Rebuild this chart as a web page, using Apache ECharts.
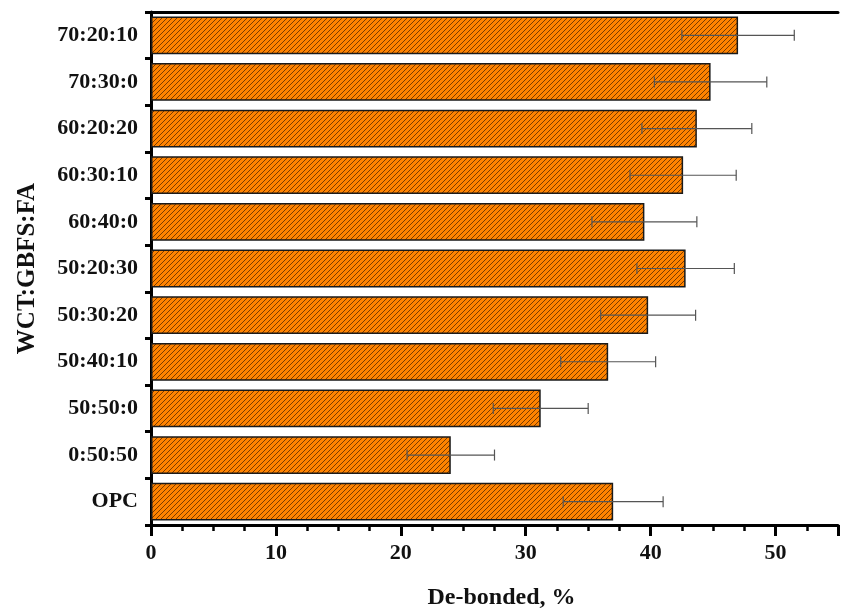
<!DOCTYPE html>
<html>
<head>
<meta charset="utf-8">
<script src="https://cdn.jsdelivr.net/npm/echarts@6/dist/echarts.min.js"></script>
<style>
html,body{margin:0;padding:0;background:#fff;}
#c{width:841px;height:615px;}
</style>
</head>
<body>
<div id="c"></div>
<script>
var categories = ['OPC','0:50:50','50:50:0','50:40:10','50:30:20','50:20:30','60:40:0','60:30:10','60:20:20','70:30:0','70:20:10'];
var debonded = [37.0, 24.0, 31.2, 36.6, 39.8, 42.8, 39.5, 42.6, 43.7, 44.8, 47.0];
var errors = [4.0, 3.5, 3.8, 3.8, 3.8, 3.9, 4.2, 4.25, 4.4, 4.5, 4.5];
var xTicks = [0, 10, 20, 30, 40, 50];

function makeHatch() {
  var s = 5;
  var cv = document.createElement('canvas');
  cv.width = s; cv.height = s;
  var ctx = cv.getContext('2d');
  ctx.fillStyle = '#ff8300';
  ctx.fillRect(0, 0, s, s);
  for (var y = 0; y < s; y++) {
    for (var x = 0; x < s; x++) {
      if ((x + y) % s === s - 1) { ctx.fillStyle = '#7a3c00'; ctx.fillRect(x, y, 1, 1); }
    }
  }
  return cv;
}

var errData = categories.map(function (c, i) {
  return [i, debonded[i] - errors[i], debonded[i] + errors[i]];
});

var font = '"Liberation Serif", "Times New Roman", serif';
var chart = echarts.init(document.getElementById('c'), null, {renderer: 'canvas'});
chart.setOption({
  animation: false,
  backgroundColor: '#fff',
  grid: {left: 151, right: 2, top: 12, bottom: 89, containLabel: false},
  xAxis: [{
    type: 'value',
    min: 0, max: 55, interval: 10,
    position: 'bottom',
    name: 'De-bonded, %',
    nameLocation: 'middle',
    nameGap: 61,
    nameTextStyle: {fontFamily: font, fontWeight: 'bold', fontSize: 24, color: '#111', padding: [0, 0, 0, 14]},
    axisLine: {show: true, onZero: false, lineStyle: {color: '#000', width: 3}},
    axisTick: {show: true, inside: false, length: 11, lineStyle: {color: '#000', width: 3}},
    minorTick: {show: true, splitNumber: 4, length: 6, lineStyle: {color: '#000', width: 2.5}},
    splitLine: {show: false},
    axisLabel: {
      margin: 17, fontFamily: font, fontWeight: 'bold', fontSize: 22, color: '#111',
      formatter: function (v) { return xTicks.indexOf(v) >= 0 ? String(v) : ''; }
    }
  }, {
    type: 'value',
    min: 0, max: 55,
    position: 'top',
    axisLine: {show: true, lineStyle: {color: '#000', width: 3}},
    axisTick: {show: false},
    axisLabel: {show: false},
    splitLine: {show: false}
  }],
  yAxis: {
    type: 'category',
    data: categories,
    name: 'WCT:GBFS:FA',
    nameLocation: 'middle',
    nameGap: 111,
    nameTextStyle: {fontFamily: font, fontWeight: 'bold', fontSize: 25, color: '#111'},
    axisLine: {show: true, lineStyle: {color: '#000', width: 3}},
    axisTick: {show: true, inside: false, length: 6, lineStyle: {color: '#000', width: 3}},
    splitLine: {show: false},
    axisLabel: {margin: 13, fontFamily: font, fontWeight: 'bold', fontSize: 22, color: '#111'}
  },
  series: [{
    type: 'bar',
    data: debonded,
    barWidth: '81%',
    itemStyle: {
      color: {image: makeHatch(), repeat: 'repeat'},
      borderColor: '#1a1a1a',
      borderWidth: 1.5
    },
    z: 2
  }, {
    type: 'custom',
    data: errData,
    encode: {x: [1, 2], y: 0},
    z: 3,
    renderItem: function (params, api) {
      var idx = api.value(0);
      var lo = api.coord([api.value(1), idx]);
      var hi = api.coord([api.value(2), idx]);
      var h = 5.5;
      var st = {stroke: '#555', lineWidth: 1.2};
      return {
        type: 'group',
        children: [
          {type: 'line', shape: {x1: lo[0], y1: lo[1], x2: hi[0], y2: hi[1]}, style: st},
          {type: 'line', shape: {x1: lo[0], y1: lo[1] - h, x2: lo[0], y2: lo[1] + h}, style: st},
          {type: 'line', shape: {x1: hi[0], y1: hi[1] - h, x2: hi[0], y2: hi[1] + h}, style: st}
        ]
      };
    }
  }]
});
</script>
</body>
</html>
